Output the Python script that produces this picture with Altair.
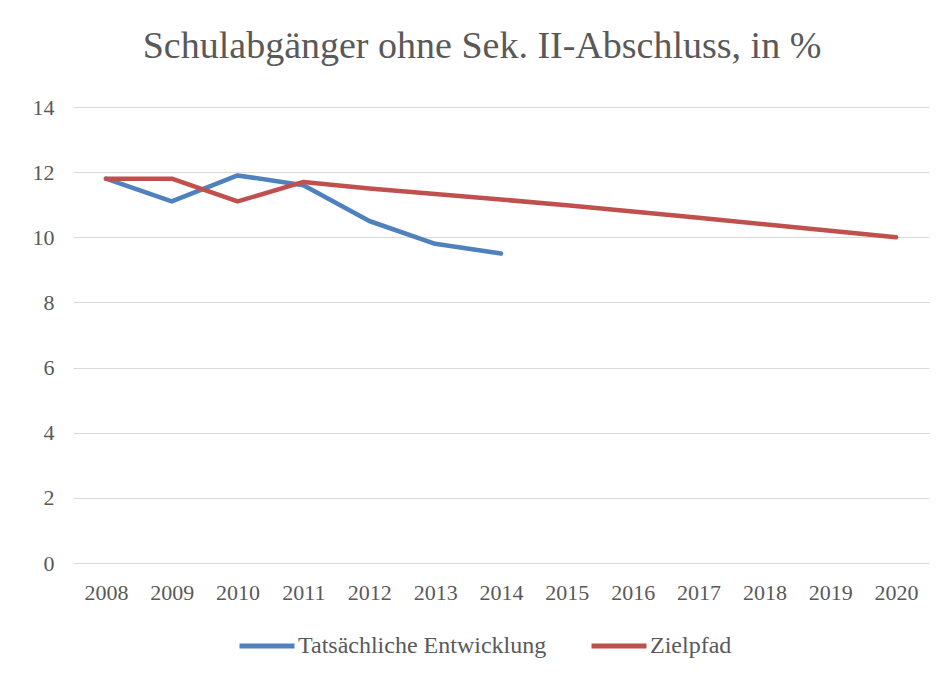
import altair as alt
import pandas as pd

years = [str(y) for y in range(2008, 2021)]
series_names = ["Tatsächliche Entwicklung", "Zielpfad"]
actual = [11.8, 11.1, 11.9, 11.6, 10.5, 9.8, 9.5]
target = [11.8, 11.8, 11.1, 11.7, 11.5, 11.33, 11.16, 10.98, 10.79, 10.6, 10.4, 10.2, 10.0]
colors = ["#4F81BD", "#C0504D"]
y_ticks = [0, 2, 4, 6, 8, 10, 12, 14]

rows = []
for y, v in zip(years, actual):
    rows.append({"Jahr": y, "Reihe": series_names[0], "Wert": v})
for y, v in zip(years, target):
    rows.append({"Jahr": y, "Reihe": series_names[1], "Wert": v})
df = pd.DataFrame(rows)

FONT = "Liberation Serif"
GREY = "#595959"

chart = alt.Chart(df).mark_line(strokeWidth=4.5, strokeCap="round", strokeJoin="round").encode(
    x=alt.X("Jahr:O", sort=years, title=None,
            scale=alt.Scale(domain=years),
            axis=alt.Axis(labelAngle=0, domain=False, ticks=False, labelPadding=19,
                          labelFontSize=22, labelColor=GREY, labelFont=FONT, grid=False)),
    y=alt.Y("Wert:Q", title=None,
            scale=alt.Scale(domain=[0, 14], nice=False),
            axis=alt.Axis(values=y_ticks, domain=False, ticks=False, labelPadding=19,
                          labelFontSize=22, labelColor=GREY, labelFont=FONT,
                          gridColor="#D9D9D9", gridWidth=1.2)),
    color=alt.Color("Reihe:N", sort=series_names,
                    scale=alt.Scale(domain=series_names, range=colors),
                    legend=alt.Legend(title=None, orient="none", direction="horizontal",
                                      legendX=164, legendY=509,
                                      symbolType="stroke", symbolSize=3025,
                                      symbolStrokeWidth=5, labelOffset=1,
                                      columnPadding=34, labelLimit=500,
                                      labelFontSize=24, labelColor=GREY, labelFont=FONT)),
    order=alt.Order("Jahr:O"),
).properties(
    width=856,
    height=456,
    title=alt.TitleParams("Schulabgänger ohne Sek. II-Abschluss, in %", font=FONT,
                          fontSize=38, fontWeight="normal", color=GREY,
                          anchor="middle", offset=30, dx=-19),
    autosize=alt.AutoSizeParams(type="none"),
    padding={"left": 65, "top": 99, "right": 10, "bottom": 100},
).configure(background="white").configure_view(stroke=None)

chart.save("out.html", embed_options={"renderer": "svg", "actions": False})
